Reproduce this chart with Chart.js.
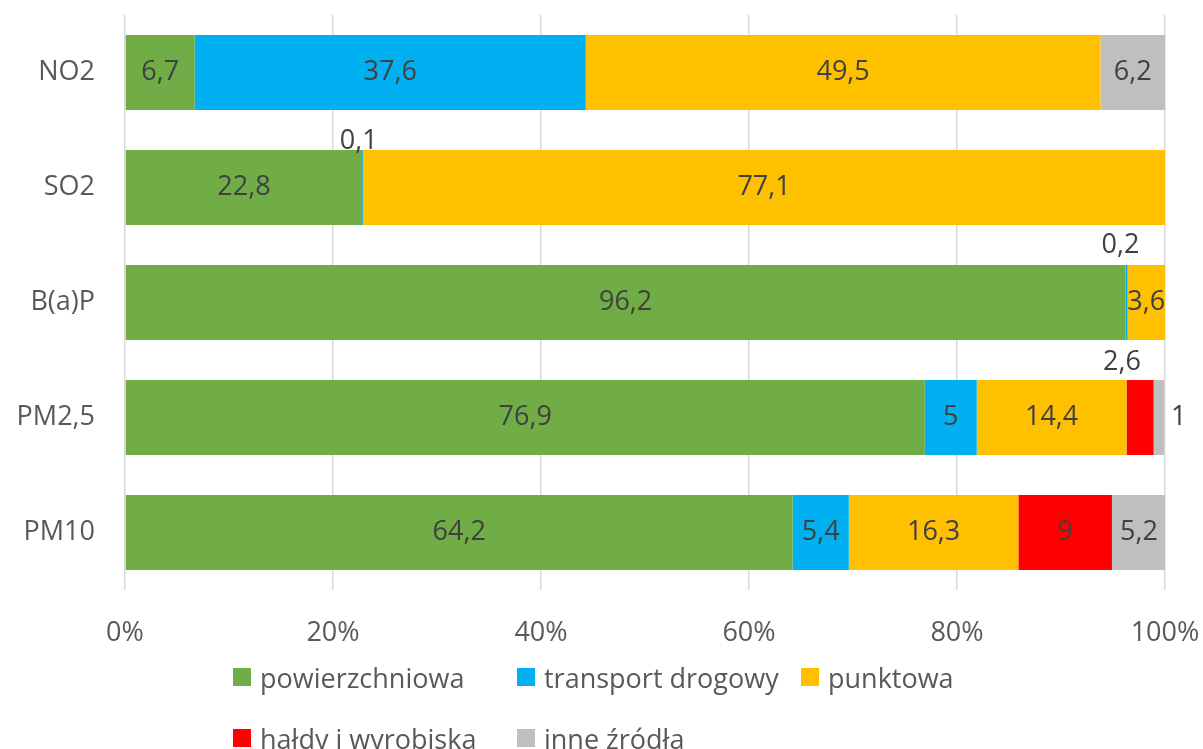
<!DOCTYPE html>
<html lang="pl">
<head>
<meta charset="utf-8">
<title>Udział źródeł emisji</title>
<script src="https://cdn.jsdelivr.net/npm/chart.js@4.4.1/dist/chart.umd.min.js"></script>
<style>
  html, body { margin: 0; padding: 0; background: #fff; }
  #wrap { position: relative; width: 1203px; height: 749px; overflow: hidden; }
  #legend {
    position: absolute; left: 233px; top: 659px; width: 852px;
    display: flex; flex-wrap: wrap;
    font-family: 'Open Sans', sans-serif; font-size: 27px; color: #595959;
  }
  .item { width: 284px; height: 61px; display: flex; align-items: flex-start; white-space: nowrap; }
  .box { width: 18px; height: 18px; margin-top: 9px; margin-right: 9px; flex: none; }
</style>
</head>
<body>
<div id="wrap">
  <canvas id="chart" width="1203" height="749"></canvas>
  <div id="legend"></div>
</div>
<script>
// udział źródeł w emisji (%) – wykres skumulowany 100%
const categories = ['NO2', 'SO2', 'B(a)P', 'PM2,5', 'PM10'];
const seriesNames = ['powierzchniowa', 'transport drogowy', 'punktowa', 'hałdy i wyrobiska', 'inne źródła'];
const powierzchniowa = [6.7, 22.8, 96.2, 76.9, 64.2];
const transport = [37.6, 0.1, 0.2, 5, 5.4];
const punktowa = [49.5, 77.1, 3.6, 14.4, 16.3];
const haldy = [null, null, null, 2.6, 9];
const inne = [6.2, null, null, 1, 5.2];
const xTicks = [0, 20, 40, 60, 80, 100];

const colors = ['#70AD47', '#00B0F0', '#FFC000', '#FF0000', '#BFBFBF'];

// etykiety przesunięte poza słupek (kategoria:seria -> [dx, dy])
const labelShift = {
  '1:1': [-4, -46],
  '2:1': [-6, -57],
  '3:3': [-18, -55],
  '3:4': [20, 0]
};

const fmt = v => String(v).replace('.', ',');

Chart.defaults.font.family = "'Open Sans', sans-serif";
Chart.defaults.font.size = 27;
Chart.defaults.color = '#595959';

const valueLabels = {
  id: 'valueLabels',
  afterDatasetsDraw(chart) {
    const ctx = chart.ctx;
    ctx.save();
    ctx.font = "27px 'Open Sans', sans-serif";
    ctx.fillStyle = '#404040';
    ctx.textAlign = 'center';
    ctx.textBaseline = 'middle';
    chart.data.datasets.forEach((ds, di) => {
      chart.getDatasetMeta(di).data.forEach((bar, ci) => {
        const v = ds.data[ci];
        if (v == null) return;
        const p = bar.getProps(['x', 'y', 'base'], true);
        const off = labelShift[ci + ':' + di] || [0, 0];
        ctx.fillText(fmt(v), (p.x + p.base) / 2 + off[0], p.y + off[1]);
      });
    });
    ctx.restore();
  }
};

const seriesData = [powierzchniowa, transport, punktowa, haldy, inne];

new Chart(document.getElementById('chart'), {
  type: 'bar',
  data: {
    labels: categories,
    datasets: seriesNames.map((name, i) => ({
      label: name,
      data: seriesData[i],
      backgroundColor: colors[i],
      borderWidth: 0,
      barPercentage: 0.652,
      categoryPercentage: 1
    }))
  },
  options: {
    indexAxis: 'y',
    responsive: false,
    animation: false,
    layout: { padding: { left: 0, right: 38, top: 15, bottom: 79 } },
    scales: {
      x: {
        stacked: true,
        min: 0,
        max: 100,
        afterBuildTicks: s => { s.ticks = xTicks.map(v => ({ value: v })); },
        afterFit: s => { s.height = 80; s.paddingLeft = 0; s.paddingRight = 0; },
        ticks: { padding: 27, color: '#595959', callback: v => v + '%', maxRotation: 0 },
        grid: { color: '#D9D9D9', lineWidth: 1.5, drawTicks: false },
        border: { display: false }
      },
      y: {
        stacked: true,
        afterFit: s => { s.width = 125; s.paddingTop = 0; s.paddingBottom = 0; },
        ticks: { padding: 30, color: '#595959' },
        grid: { display: false, drawTicks: false },
        border: { display: false }
      }
    },
    plugins: {
      legend: { display: false },
      tooltip: { enabled: false }
    }
  },
  plugins: [valueLabels]
});

// legenda jak w Excelu: trzy kolumny, drugi wiersz ucięty przez krawędź
const legend = document.getElementById('legend');
seriesNames.forEach((name, i) => {
  const item = document.createElement('div');
  item.className = 'item';
  const box = document.createElement('span');
  box.className = 'box';
  box.style.background = colors[i];
  const txt = document.createElement('span');
  txt.textContent = name;
  item.appendChild(box);
  item.appendChild(txt);
  legend.appendChild(item);
});
</script>
</body>
</html>
